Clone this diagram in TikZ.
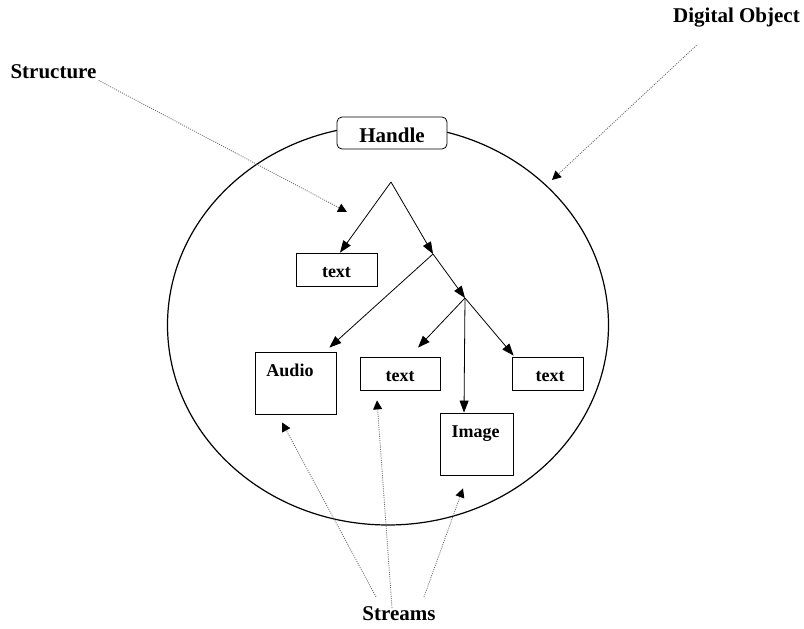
\documentclass[tikz,border=0pt]{standalone}
\usepackage{fontspec}
\setmainfont{Liberation Serif}
\usetikzlibrary{arrows.meta}

\begin{document}
\begin{tikzpicture}[x=1pt, y=-1pt,
    big/.style={font=\fontsize{21}{25}\selectfont\bfseries, inner sep=2pt, anchor=base},
    tag/.style={font=\fontsize{18}{22}\selectfont\bfseries, anchor=base},
    leaf/.style={draw, line width=0.8pt, font=\fontsize{18}{22}\selectfont\bfseries,
        minimum height=33pt, text height=15pt, text depth=0pt, inner ysep=9pt, inner xsep=0pt},
    media/.style={draw, line width=0.8pt, minimum height=62pt},
    branch/.style={line width=0.8pt, -{Triangle[length=12pt,width=9pt]}},
    pointer/.style={black!60, line width=0.8pt, dash pattern=on 1pt off 1.2pt,
        -{Triangle[length=9pt,width=9pt,color=black]}}]
    \useasboundingbox (0,0) rectangle (804,629);
    \def\cx{388}
    \def\cy{325}

    % Draw the digital object outline
    \draw[line width=1.2pt] (\cx,\cy) ellipse (220.5pt and 200pt);
    \node[draw, rounded corners=5pt, fill=white, line width=0.8pt, font=\fontsize{21}{25}\selectfont\bfseries,
        minimum width=110pt, minimum height=32pt, text height=18pt, text depth=0pt, inner ysep=7pt]
        (handle) at (392,133) {Handle};

    % Draw the leaves of the structure
    \node[leaf, minimum width=81pt] (text1) at (336.5,269.5) {text};
    \node[leaf, minimum width=80pt] (text2) at (400,373.5) {text};
    \node[leaf, minimum width=71pt] (text3) at (547.5,373.5) {\hspace{5pt}text};
    \node[media, minimum width=81pt] (audio) at (295.5,383) {};
    \node[tag] (audiotag) at (290,376) {Audio};
    \node[media, minimum width=73pt] (image) at (476.5,444) {};
    \node[tag] (imagetag) at (475.5,437) {Image};

    % Draw the tree
    \coordinate (root) at (391,182);
    \coordinate (fork) at (433,254);
    \coordinate (split) at (465,298);
    \draw[branch] (root) -- ([xshift=3.5pt]text1.north);
    \draw[branch] (root) -- (fork);
    \draw[branch] (fork) -- ([xshift=-7pt,yshift=4pt]audio.north east);
    \draw[branch] (fork) -- (split);
    \draw[branch] (split) -- ([xshift=18pt,yshift=9pt]text2.north);
    \draw[branch] (split) -- ([xshift=-12.5pt]image.north);
    \draw[branch] (split) -- ([xshift=2pt,yshift=1pt]text3.north west);

    % Annotate the parts
    \node[big] (structure) at (53.5,78) {Structure};
    \node[big] (digobj) at (736.5,22) {Digital Object};
    \node[big] (streams) at (399,620) {Streams};
    \coordinate (structtip) at (347,212);
    \coordinate (objtip) at (552,180);
    \draw[pointer] (structure.south east) -- (structtip);
    \draw[pointer] ([xshift=-40pt,yshift=-16.5pt]digobj.south) -- (objtip);
    \draw[pointer] ([xshift=-23pt,yshift=7pt]streams.north) -- ([xshift=-13.5pt,yshift=-8pt]audio.south);
    \draw[pointer] ([xshift=-7pt,yshift=-4pt]streams.north) -- ([xshift=-23pt,yshift=-10pt]text2.south);
    \draw[pointer] ([xshift=25pt,yshift=7pt]streams.north) -- ([xshift=-13.5pt,yshift=-13pt]image.south);
\end{tikzpicture}
\end{document}
